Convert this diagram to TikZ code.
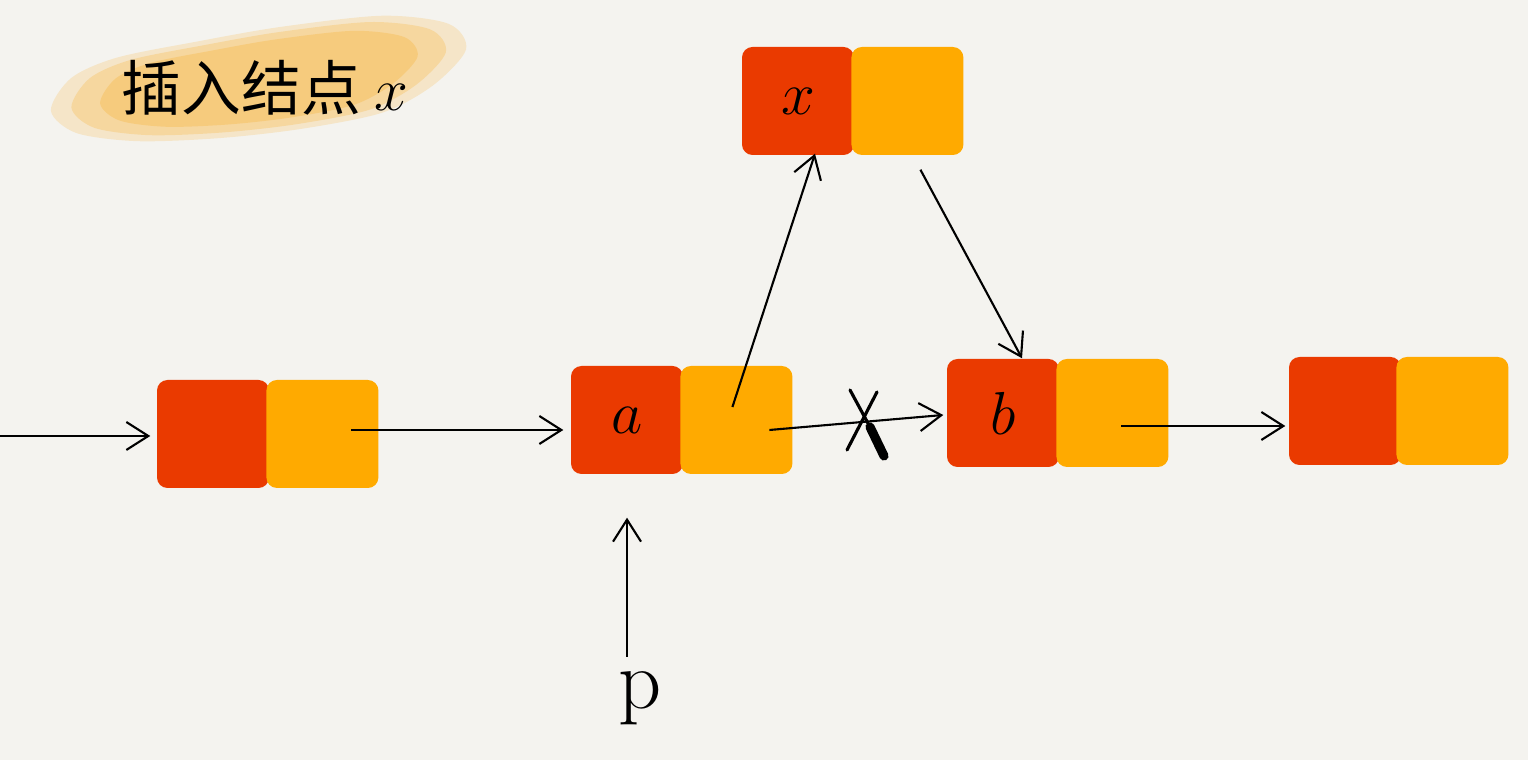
\documentclass[tikz,border=0pt]{standalone}
\usepackage{fontspec}
\newfontfamily\cjkfont{Noto Sans CJK SC}
\usetikzlibrary{positioning,calc,arrows.meta}
\definecolor{paper}{RGB}{244,243,239}
\definecolor{cellred}{RGB}{234,58,0}
\definecolor{cellyellow}{RGB}{255,170,0}
\definecolor{blob}{RGB}{248,190,85}

\begin{document}
\begin{tikzpicture}[
    cell/.style={minimum width=1.12cm, minimum height=1.08cm, inner sep=0pt,
      rounded corners=3pt, font=\fontsize{16}{20}\selectfont},
    datacell/.style={cell, fill=cellred},
    nextcell/.style={cell, fill=cellyellow},
    link/.style={-{Straight Barb[length=2.2mm,width=2.8mm]}, line width=0.6pt}]
        % paper
        \fill[paper] (0,0) rectangle (15.28,7.60);
        \useasboundingbox (0,0) rectangle (15.28,7.60);

        % title blob
        \foreach \o/\s in {0.25/1.02, 0.35/0.92, 0.45/0.78}
            \fill[blob, opacity=\o, shift={(2.6,6.8)}, scale=\s]
                plot[smooth cycle] coordinates {(-2.05,-0.30) (-1.85,0.02) (-1.4,0.22) (-0.6,0.38)
                (0.2,0.52) (1.2,0.63) (1.85,0.55) (2.02,0.30) (1.7,-0.05) (1.2,-0.32)
                (0.4,-0.48) (-0.4,-0.57) (-1.2,-0.60) (-1.8,-0.52)};
        \node[font=\fontsize{17}{20}\selectfont] (title) at (2.65,6.72) {\cjkfont 插入结点 $x$};

        % nodes
        \node[datacell] (n1) at (2.13,3.26) {};
        \node[nextcell, right=-0.04cm of n1] (n1next) {};
        \node[datacell] (a) at (6.27,3.40) {$a$};
        \node[nextcell, right=-0.04cm of a] (anext) {};
        \node[datacell] (x) at (7.98,6.59) {$x$};
        \node[nextcell, right=-0.04cm of x] (xnext) {};
        \node[datacell] (b) at (10.03,3.47) {$b$};
        \node[nextcell, right=-0.04cm of b] (bnext) {};
        \node[datacell] (n4) at (13.45,3.49) {};
        \node[nextcell, right=-0.06cm of n4] (n4next) {};

        % pointer p
        \node[font=\fontsize{24}{28}\selectfont] (p) at (6.40,0.62) {p};

        % links
        \coordinate (head) at (0,3.24);
        \draw[link, shorten >=0.06cm] (head) -- (head -| n1.west);
        \coordinate (n1out) at ($(n1next.east)+(-0.28,0.04)$);
        \draw[link, shorten >=0.07cm] (n1out) -- (n1out -| a.west);
        \draw[link] ($(anext.center)+(-0.04,0.13)$) -- ($(x.south)+(0.17,0.02)$);
        \draw[link] ($(anext.center)+(0.33,-0.10)$) -- ($(b.west)+(-0.03,-0.02)$);
        \draw[link] ($(xnext.south)+(0.13,-0.14)$) -- ($(b.north)+(0.19,0)$);
        \coordinate (bout) at ($(bnext.east)+(-0.48,-0.13)$);
        \draw[link, shorten >=0.03cm] (bout) -- (bout -| n4.west);
        \coordinate (pin) at ($(a.south |- p.north)+(0,0.02)$);
        \draw[link, shorten >=0.43cm] (pin) -- (a.south);

        % cut link
        \coordinate (cut) at (8.65,3.35);
        \draw[line width=0.9pt, line cap=round] ($(cut)+(0.12,0.33)$) -- ($(cut)+(-0.18,-0.25)$);
        \draw[line width=0.9pt, line cap=round] ($(cut)+(-0.15,0.35)$) -- ($(cut)+(0.05,-0.02)$);
        \draw[line width=2.6pt, line cap=round] ($(cut)+(0.05,-0.02)$) -- ($(cut)+(0.19,-0.31)$);
    \end{tikzpicture}
\end{document}
